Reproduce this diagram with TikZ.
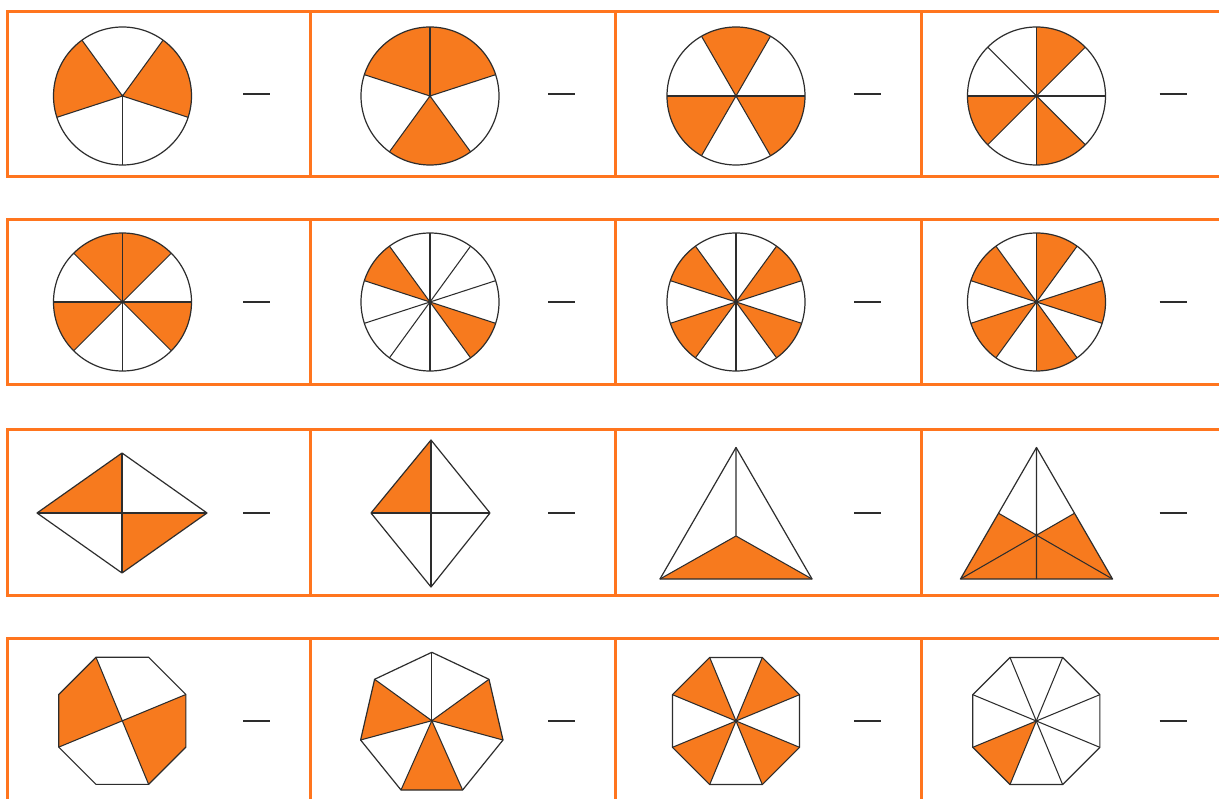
\documentclass[tikz,border=0pt]{standalone}
\usetikzlibrary{calc}
\definecolor{fillor}{RGB}{247,122,30}
\definecolor{boxor}{RGB}{255,117,30}
\definecolor{ink}{RGB}{45,45,45}
\tikzset{
 outl/.style={draw=ink, line width=1.2pt, line join=round},
 spoke/.style={draw=ink, line width=1.05pt},
 shaded/.style={fill=fillor},
 frame/.style={draw=boxor, line width=3pt},
 blank/.style={draw=ink, line width=1.8pt},
}
\newcommand{\fracpie}[5]{%
 \begin{scope}[shift={(#1,#2)}, yscale=-1]
   \pgfmathsetmacro\pieang{360/#3}
   \foreach \k in {#5} {\fill[shaded] (0,0) -- ({#4+\k*\pieang}:69) arc[start angle={#4+\k*\pieang}, delta angle=\pieang, radius=69] -- cycle;}
   \foreach \k in {1,...,#3} {\draw[spoke] (0,0) -- ({#4+\k*\pieang}:69);}
   \draw[outl] (0,0) circle[radius=69];
   \fill[ink] (0,0) circle[radius=1.6];
 \end{scope}}
\newcommand{\fracocta}[4]{%
 \begin{scope}[shift={(#1,#2)}, yscale=-1]
  \foreach \k in {#3} {\fill[shaded] (0,0) -- ({22.5+45*\k}:68.8) -- ({67.5+45*\k}:68.8) -- cycle;}
  \foreach \k in {#4} {\draw[spoke] (0,0) -- ({22.5+45*\k}:68.8);}
  \draw[outl] (22.5:68.8) \foreach \k in {1,...,7} {-- ({22.5+45*\k}:68.8)} -- cycle;
 \end{scope}}
\begin{document}
\begin{tikzpicture}[x=1pt,y=-1pt]
\useasboundingbox (0,0) rectangle (1219,799);
\clip (0,0) rectangle (1219,799);
\fill[white] (0,0) rectangle (1219,799);

% frames
\foreach \t/\b in {12/177, 220/385, 430/595, 638/812} {
  \draw[frame] (7,\t) rectangle (1235,\b);
  \foreach \x in {310.5,615.5,921} {\draw[frame] (\x,\t) -- (\x,\b);}
}

% blanks
\foreach \yy in {94,302,513,721} {
  \foreach \xx in {243,548,854,1159.5} {
    \draw[blank] (\xx,\yy) -- ++(27,0);
  }
}

% row 1
\fracpie{122.5}{96}{5}{270}{1,3}
\fracpie{430}{96}{5}{18}{0,1,3}
\fracpie{736}{96}{6}{0}{1,3,5}
\fracpie{1036.5}{96}{8}{0}{1,4,6}

% row 2
\fracpie{122.5}{302}{8}{0}{1,2,4,7}
\fracpie{430}{302}{10}{18}{3,8}
\fracpie{736}{302}{10}{18}{0,3,5,8}
\fracpie{1036.5}{302}{10}{18}{1,3,5,7,9}

% row 3, col 1: rhombus
\coordinate (aL) at (37,513);
\coordinate (aR) at (207,513);
\coordinate (aT) at (122,453);
\coordinate (aB) at (122,573);
\coordinate (aC) at (122,513);
\fill[shaded] (aL) -- (aT) -- (aC) -- cycle;
\fill[shaded] (aC) -- (aR) -- (aB) -- cycle;
\draw[spoke] (aL) -- (aR) (aT) -- (aB);
\draw[outl] (aL) -- (aT) -- (aR) -- (aB) -- cycle;

% row 3, col 2: rhombus
\coordinate (bL) at (371,513);
\coordinate (bR) at (490,513);
\coordinate (bT) at (431,440);
\coordinate (bB) at (431,587);
\coordinate (bC) at (431,513);
\fill[shaded] (bL) -- (bT) -- (bC) -- cycle;
\draw[spoke] (bL) -- (bR) (bT) -- (bB);
\draw[outl] (bL) -- (bT) -- (bR) -- (bB) -- cycle;

% row 3, col 3: triangle
\coordinate (cT) at (736,447.5);
\coordinate (cL) at (660,579);
\coordinate (cR) at (812,579);
\coordinate (cI) at (736,536);
\fill[shaded] (cL) -- (cI) -- (cR) -- cycle;
\draw[spoke] (cT) -- (cI) (cL) -- (cI) -- (cR);
\draw[outl] (cT) -- (cL) -- (cR) -- cycle;

% row 3, col 4: triangle with medians
\coordinate (dT) at (1036.5,447.5);
\coordinate (dL) at (960.5,579);
\coordinate (dR) at (1112.5,579);
\coordinate (dML) at ($(dT)!0.5!(dL)$);
\coordinate (dMR) at ($(dT)!0.5!(dR)$);
\coordinate (dMB) at ($(dL)!0.5!(dR)$);
\coordinate (dG) at ($(dT)!0.6667!(dMB)$);
\fill[shaded] (dL) -- (dML) -- (dG) -- (dMR) -- (dR) -- cycle;
\draw[spoke] (dT) -- (dMB) (dL) -- (dMR) (dR) -- (dML);
\draw[outl] (dT) -- (dL) -- (dR) -- cycle;
\fill[ink] (dG) circle[radius=1.4];

% row 4, col 1: octagon in four parts
\begin{scope}[shift={(122.3,720.8)}, yscale=-1]
  \fill[shaded] (0,0) -- (112.5:68.8) -- (157.5:68.8) -- (202.5:68.8) -- cycle;
  \fill[shaded] (0,0) -- (292.5:68.8) -- (337.5:68.8) -- (22.5:68.8) -- cycle;
  \draw[spoke] (112.5:68.8) -- (292.5:68.8) (202.5:68.8) -- (22.5:68.8);
  \draw[outl] (22.5:68.8) \foreach \k in {1,...,7} {-- ({22.5+45*\k}:68.8)} -- cycle;
\end{scope}

% row 4, col 2: heptagon
\coordinate (hC) at (431.8,720.7);
\coordinate (h1) at (431.8,652.3);
\coordinate (h2) at (489,679.3);
\coordinate (h3) at (503,740);
\coordinate (h4) at (462.6,790);
\coordinate (h5) at (401,790);
\coordinate (h6) at (360.6,740);
\coordinate (h7) at (374.6,679.3);
\fill[shaded] (hC) -- (h2) -- (h3) -- cycle;
\fill[shaded] (hC) -- (h4) -- (h5) -- cycle;
\fill[shaded] (hC) -- (h6) -- (h7) -- cycle;
\foreach \v in {h1,h2,h3,h4,h5,h6,h7} {\draw[spoke] (hC) -- (\v);}
\draw[outl] (h1) -- (h2) -- (h3) -- (h4) -- (h5) -- (h6) -- (h7) -- cycle;
\fill[ink] (hC) circle[radius=1.4];

% row 4, col 3 and 4: octagons in eight parts
\fracocta{736}{721}{0,2,4,6}{0,...,7}
\fracocta{1036.3}{721}{4}{0,...,7}
\end{tikzpicture}
\end{document}
